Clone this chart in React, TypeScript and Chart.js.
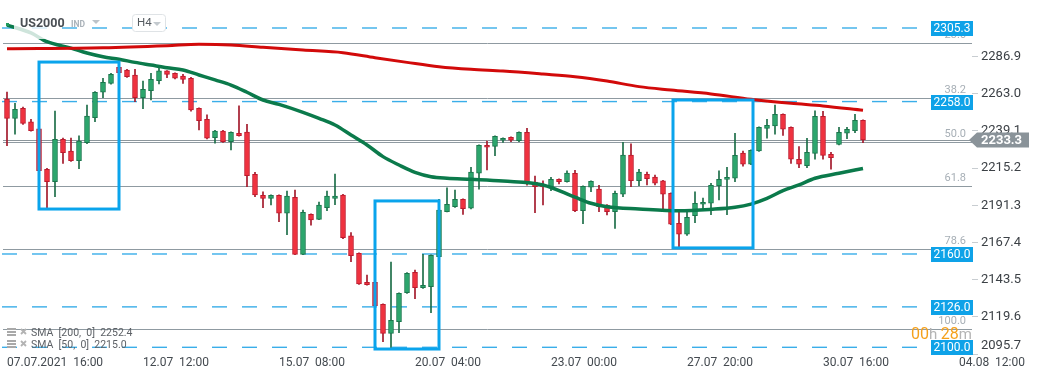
import React, { useEffect, useRef } from "react";
import { Chart, registerables } from "chart.js";

Chart.register(...registerables);

// ---- DATA (H4 candles, index 0 = 07.07.2021 16:00) ----
const opens = [
  2259.6, 2247.2, 2253.7, 2244.9, 2240.4, 2214.5, 2206.5, 2233.7, 2226.2, 2220.0,
  2231.5, 2247.6, 2264.0, 2269.7, 2280.0, 2278.3, 2275.1, 2260.5, 2265.0, 2271.4,
  2277.7, 2276.2, 2274.4, 2273.0, 2253.7, 2246.6, 2234.8, 2239.1, 2232.2, 2237.6,
  2238.4, 2211.2, 2197.7, 2195.8, 2197.7, 2186.2, 2196.4, 2159.8, 2185.5, 2182.3,
  2189.8, 2195.8, 2197.9, 2171.6, 2160.4, 2141.8, 2141.8, 2127.7, 2109.0, 2116.5,
  2135.1, 2148.2, 2138.3, 2139.0, 2158.3, 2187.2, 2190.4, 2195.2, 2189.4, 2211.9,
  2229.9, 2229.2, 2233.1, 2235.0, 2232.8, 2238.2, 2206.3, 2204.2, 2203.3, 2208.0,
  2206.5, 2211.9, 2187.8, 2202.9, 2201.8, 2191.5, 2187.2, 2198.4, 2223.6, 2207.1,
  2211.2, 2209.5, 2207.0, 2199.0, 2179.7, 2172.7, 2184.6, 2192.0, 2192.6, 2203.9,
  2208.0, 2208.7, 2224.9, 2217.7, 2226.2, 2240.8, 2242.3, 2249.8, 2241.4, 2220.9,
  2216.8, 2224.7, 2248.5, 2224.1, 2230.5, 2237.6, 2239.3, 2246.0,
];
const highs = [
  2264.1, 2256.9, 2254.5, 2246.6, 2241.0, 2215.0, 2251.9, 2234.6, 2234.6, 2235.9,
  2255.8, 2264.5, 2273.0, 2276.2, 2282.8, 2278.8, 2278.7, 2271.2, 2276.2, 2280.0,
  2278.0, 2276.5, 2275.5, 2273.6, 2254.0, 2249.4, 2239.5, 2239.5, 2238.6, 2255.2,
  2243.4, 2212.5, 2199.9, 2198.0, 2198.0, 2200.5, 2201.1, 2188.3, 2185.8, 2193.4,
  2200.5, 2211.4, 2198.3, 2173.7, 2160.8, 2146.5, 2142.2, 2128.0, 2154.8, 2135.0,
  2148.0, 2149.7, 2159.8, 2159.5, 2195.2, 2202.6, 2201.1, 2195.5, 2215.7, 2230.2,
  2232.6, 2236.0, 2234.7, 2235.3, 2238.5, 2240.8, 2210.1, 2207.0, 2209.3, 2208.3,
  2213.4, 2213.8, 2203.8, 2207.0, 2204.2, 2191.8, 2200.5, 2231.8, 2230.9, 2214.5,
  2212.7, 2210.8, 2207.3, 2199.3, 2187.0, 2187.8, 2199.9, 2196.0, 2205.5, 2213.4,
  2215.7, 2237.6, 2226.2, 2227.0, 2241.7, 2246.6, 2255.8, 2250.1, 2241.7, 2229.0,
  2234.4, 2252.1, 2251.7, 2225.4, 2241.4, 2241.4, 2249.8, 2246.3,
];
const lows = [
  2229.6, 2237.0, 2243.3, 2238.9, 2213.0, 2189.8, 2196.8, 2218.3, 2219.5, 2214.8,
  2231.0, 2245.0, 2260.5, 2269.2, 2276.0, 2273.5, 2257.9, 2253.4, 2259.0, 2269.3,
  2273.4, 2272.5, 2269.7, 2251.9, 2239.7, 2234.0, 2231.2, 2231.8, 2226.9, 2235.7,
  2203.3, 2196.8, 2189.8, 2191.5, 2180.7, 2172.4, 2159.5, 2159.5, 2178.6, 2182.0,
  2187.8, 2191.7, 2169.8, 2155.0, 2140.5, 2140.0, 2126.5, 2103.6, 2099.4, 2109.4,
  2134.7, 2131.3, 2137.9, 2122.2, 2158.0, 2187.0, 2190.0, 2185.5, 2189.0, 2201.6,
  2214.0, 2223.2, 2231.8, 2232.2, 2232.2, 2204.2, 2186.5, 2191.5, 2200.7, 2205.0,
  2206.2, 2187.2, 2179.5, 2200.0, 2187.2, 2185.1, 2176.5, 2196.8, 2203.3, 2203.9,
  2204.4, 2204.4, 2188.7, 2178.8, 2164.7, 2172.0, 2180.1, 2188.9, 2185.3, 2194.7,
  2185.3, 2206.5, 2216.4, 2217.4, 2225.9, 2234.4, 2237.0, 2236.3, 2218.3, 2215.5,
  2215.5, 2220.9, 2220.9, 2214.5, 2230.2, 2234.1, 2238.0, 2231.5,
];
const closes = [
  2247.2, 2253.0, 2244.0, 2239.3, 2213.5, 2206.5, 2233.7, 2225.1, 2220.0, 2232.6,
  2248.7, 2264.0, 2270.4, 2275.5, 2276.6, 2274.0, 2260.5, 2265.9, 2272.3, 2277.7,
  2275.5, 2273.0, 2272.3, 2252.6, 2245.7, 2234.4, 2239.1, 2232.2, 2238.2, 2236.1,
  2210.3, 2197.9, 2195.8, 2197.7, 2186.2, 2197.3, 2159.8, 2186.8, 2181.9, 2191.5,
  2197.3, 2197.3, 2170.5, 2158.9, 2140.7, 2140.3, 2126.8, 2109.0, 2117.4, 2134.7,
  2147.6, 2138.3, 2139.9, 2159.2, 2188.3, 2192.0, 2195.2, 2189.1, 2212.7, 2229.9,
  2228.6, 2235.7, 2234.4, 2233.1, 2238.2, 2205.5, 2203.3, 2203.1, 2208.0, 2206.5,
  2212.1, 2187.8, 2203.5, 2206.7, 2190.4, 2187.2, 2199.0, 2223.6, 2207.1, 2212.7,
  2208.4, 2205.6, 2198.4, 2179.1, 2172.7, 2183.6, 2192.6, 2193.2, 2204.2, 2208.0,
  2209.3, 2223.4, 2217.7, 2226.7, 2241.4, 2242.7, 2249.8, 2240.2, 2220.9, 2217.7,
  2225.4, 2248.5, 2223.4, 2221.9, 2238.2, 2240.2, 2246.0, 2233.3,
];

const timeTickIdx = [0, 17, 34, 51, 68, 85, 102, 119];
const timeTickLabels = [
  "07.07.2021  16:00", "12.07  12:00", "15.07  08:00", "20.07  04:00",
  "23.07  00:00", "27.07  20:00", "30.07  16:00", "04.08  12:00",
];
const priceTicks = [2095.7, 2119.6, 2143.5, 2167.4, 2191.3, 2215.2, 2239.1, 2263.0, 2286.9];

const sma200Idx = [0, 12, 20, 24, 28, 32, 37, 42, 46, 50, 54, 58, 62, 67, 71, 75, 79, 83, 88, 93, 98, 102, 107];
const sma200Val = [2292.0, 2292.6, 2293.9, 2294.8, 2294.4, 2292.9, 2291.1, 2289.4, 2286.2, 2283.2, 2280.4, 2278.7,
  2277.6, 2275.7, 2274.0, 2271.2, 2267.6, 2265.4, 2262.9, 2259.5, 2256.9, 2255.2, 2252.4];
const sma50Idx = [0, 3, 5, 8, 10, 12, 14, 16, 18, 20, 22, 24, 26, 28, 30, 32, 34, 37, 39, 41, 43, 45, 47, 49, 51,
  53, 55, 58, 62, 67, 71, 73, 75, 79, 84, 88, 91, 93, 95, 97, 99, 101, 104, 107];
const sma50Val = [2307.2, 2302.1, 2296.5, 2292.4, 2289.2, 2286.8, 2285.2, 2283.2, 2281.5, 2279.8, 2278.3, 2275.1,
  2271.9, 2268.6, 2264.0, 2259.0, 2256.2, 2251.1, 2247.2, 2242.9, 2236.5, 2230.1, 2222.6, 2217.2, 2212.5,
  2209.7, 2208.7, 2208.0, 2206.9, 2204.4, 2196.5, 2192.6, 2190.4, 2189.0, 2187.8, 2188.7, 2190.0, 2192.1,
  2195.8, 2200.7, 2204.4, 2208.7, 2211.9, 2215.0];

const levelPrices = [2305.3, 2258.0, 2160.0, 2126.0, 2100.0];
const fibLabels = ["23.6", "38.2", "50.0", "61.8", "78.6", "100.0"];
const fibPrices = [2295.5, 2260.4, 2232.0, 2203.6, 2163.3, 2111.8];

const boxStartIdx = [4, 46, 83.25];
const boxEndIdx = [14, 54, 93.25];
const boxHigh = [2283.4, 2194.1, 2259.0];
const boxLow = [2188.9, 2098.9, 2163.9];

const lastPrice = 2233.3;
const legendLabels = ["SMA  [200,  0]  2252.4", "SMA  [50,  0]  2215.0"];

const RED_FILL = "#f0323f";
const RED_BORDER = "#bd1a2d";
const RED_WICK = "#a3182a";
const GREEN_FILL = "#2ca66d";
const GREEN_BORDER = "#1a764c";
const GREEN_WICK = "#1b6d47";
const FONT = "Roboto, 'Noto Sans', sans-serif";

const overlayPlugin = {
  id: "overlay",
  beforeDatasetsDraw(chart: any) {
    const { ctx, chartArea, scales } = chart;
    const ys = scales.y;
    ctx.save();
    // fib lines
    ctx.strokeStyle = "#8f9aa1";
    ctx.lineWidth = 1;
    fibPrices.forEach((p) => {
      const y = Math.round(ys.getPixelForValue(p)) + 0.5;
      ctx.beginPath();
      ctx.moveTo(chartArea.left + 3, y);
      ctx.lineTo(chartArea.right, y);
      ctx.stroke();
    });
    // current price line
    const py = Math.round(ys.getPixelForValue(lastPrice)) + 0.5;
    ctx.strokeStyle = "#8c969c";
    ctx.beginPath();
    ctx.moveTo(chartArea.left + 3, py);
    ctx.lineTo(chartArea.right, py);
    ctx.stroke();
    // dashed levels
    ctx.strokeStyle = "#3aaee9";
    ctx.lineWidth = 1.4;
    ctx.setLineDash([15, 15]);
    levelPrices.forEach((p) => {
      const y = ys.getPixelForValue(p);
      ctx.beginPath();
      ctx.moveTo(chartArea.left + 2, y);
      ctx.lineTo(chartArea.right - 41, y);
      ctx.stroke();
    });
    ctx.setLineDash([]);
    // fib labels
    ctx.fillStyle = "#a7afb6";
    ctx.font = `11px ${FONT}`;
    ctx.textAlign = "right";
    ctx.textBaseline = "middle";
    fibPrices.forEach((p, i) => {
      const y = ys.getPixelForValue(p);
      ctx.fillText(fibLabels[i], chartArea.right - 6, y - 8);
    });
    ctx.restore();
  },
  afterDatasetsDraw(chart: any) {
    const { ctx, chartArea, scales } = chart;
    const xs = scales.x;
    const ys = scales.y;
    ctx.save();
    // highlight rectangles
    ctx.strokeStyle = "#0aa4ec";
    ctx.lineWidth = 3;
    boxStartIdx.forEach((s, i) => {
      const x1 = xs.getPixelForValue(s);
      const x2 = xs.getPixelForValue(boxEndIdx[i]);
      const y1 = ys.getPixelForValue(boxHigh[i]);
      const y2 = ys.getPixelForValue(boxLow[i]);
      ctx.strokeRect(x1, y1, x2 - x1, y2 - y1);
    });
    // level labels
    ctx.font = `12px ${FONT}`;
    ctx.textAlign = "center";
    ctx.textBaseline = "middle";
    levelPrices.forEach((p) => {
      const y = ys.getPixelForValue(p);
      ctx.fillStyle = "#0ea2e8";
      ctx.fillRect(chartArea.right - 41, Math.round(y - 7), 42, 15);
      ctx.fillStyle = "#ffffff";
      ctx.fillText(p.toFixed(1), chartArea.right - 20, y + 1);
    });
    // header
    ctx.fillStyle = "rgba(255,255,255,0.8)";
    ctx.fillRect(14, 13, 48, 26);
    ctx.fillStyle = "#1f9a5c";
    ctx.fillRect(6, 23, 3, 3);
    ctx.font = `bold 12.5px ${FONT}`;
    ctx.textAlign = "left";
    ctx.fillStyle = "#4a4f54";
    ctx.fillText("US2000", 20, 24);
    ctx.font = `bold 8.5px ${FONT}`;
    ctx.fillStyle = "#aab2b9";
    ctx.fillText("IND", 71, 25);
    ctx.fillStyle = "#bcc3c9";
    ctx.beginPath();
    ctx.moveTo(92, 20); ctx.lineTo(100, 20); ctx.lineTo(96, 24); ctx.closePath(); ctx.fill();
    // H4 box
    ctx.fillStyle = "#ffffff";
    ctx.strokeStyle = "#dfe3e6";
    ctx.lineWidth = 1;
    ctx.beginPath();
    (ctx as any).roundRect ? (ctx as any).roundRect(132.5, 14.5, 33, 17, 3) : ctx.rect(132.5, 14.5, 33, 17);
    ctx.fill();
    ctx.stroke();
    ctx.fillStyle = "#555b60";
    ctx.font = `11.5px ${FONT}`;
    ctx.fillText("H4", 137, 23.5);
    ctx.fillStyle = "#c3c9ce";
    ctx.beginPath();
    ctx.moveTo(153, 22); ctx.lineTo(161, 22); ctx.lineTo(157, 26); ctx.closePath(); ctx.fill();
    // legend
    legendLabels.forEach((t, i) => {
      const y = 332 + i * 12;
      ctx.fillStyle = "#a9a9a9";
      ctx.fillRect(7, y - 4, 9, 2);
      ctx.fillRect(7, y - 1, 9, 2);
      ctx.fillRect(7, y + 2, 9, 2);
      ctx.strokeStyle = "#b3b3b3";
      ctx.lineWidth = 1.8;
      ctx.beginPath();
      ctx.moveTo(21, y - 3); ctx.lineTo(26, y + 2);
      ctx.moveTo(26, y - 3); ctx.lineTo(21, y + 2);
      ctx.stroke();
      ctx.fillStyle = "#5d6166";
      ctx.font = `10.5px ${FONT}`;
      ctx.textAlign = "left";
      ctx.fillText(t, 31, y + 1);
    });
    // countdown
    const parts = [
      { t: "00", c: "#f5a11c", f: `16px ${FONT}` },
      { t: "h ", c: "#b4b4b4", f: `15px ${FONT}` },
      { t: "28", c: "#f5a11c", f: `16px ${FONT}` },
      { t: "m", c: "#b4b4b4", f: `15px ${FONT}` },
    ];
    let total = 0;
    parts.forEach((p) => { ctx.font = p.f; total += ctx.measureText(p.t).width; });
    let cx = chartArea.right - total;
    parts.forEach((p) => {
      ctx.font = p.f;
      ctx.fillStyle = p.c;
      ctx.textAlign = "left";
      ctx.fillText(p.t, cx, 335);
      cx += ctx.measureText(p.t).width;
    });
    ctx.restore();
  },
  afterDraw(chart: any) {
    const { ctx, chartArea, scales } = chart;
    const y = scales.y.getPixelForValue(lastPrice);
    ctx.save();
    ctx.fillStyle = "#8a9399";
    ctx.beginPath();
    ctx.moveTo(chartArea.right - 3, y);
    ctx.lineTo(chartArea.right + 5, y - 7.5);
    ctx.lineTo(chartArea.right + 57, y - 7.5);
    ctx.lineTo(chartArea.right + 57, y + 7.5);
    ctx.lineTo(chartArea.right + 5, y + 7.5);
    ctx.closePath();
    ctx.fill();
    ctx.fillStyle = "#ffffff";
    ctx.font = `bold 13px ${FONT}`;
    ctx.textAlign = "left";
    ctx.textBaseline = "middle";
    ctx.fillText(lastPrice.toFixed(1), chartArea.right + 9, y + 1);
    ctx.restore();
  },
};

export default function App() {
  const canvasRef = useRef<HTMLCanvasElement | null>(null);

  useEffect(() => {
    const canvas = canvasRef.current;
    if (!canvas) return;
    const idx = opens.map((_, i) => i);
    const up = idx.map((i) => closes[i] >= opens[i]);

    const chart = new Chart(canvas, {
      type: "bar",
      data: {
        datasets: [
          {
            type: "line",
            data: sma200Idx.map((x, k) => ({ x, y: sma200Val[k] })),
            borderColor: "#d20a0a",
            borderWidth: 3,
            pointRadius: 0,
            cubicInterpolationMode: "monotone",
            order: 0,
          } as any,
          {
            type: "line",
            data: sma50Idx.map((x, k) => ({ x, y: sma50Val[k] })),
            borderColor: "#0b7a4b",
            borderWidth: 3.5,
            pointRadius: 0,
            cubicInterpolationMode: "monotone",
            order: 0,
          } as any,
          {
            type: "bar",
            data: idx.map((i) => ({ x: i, y: [Math.min(opens[i], closes[i]), Math.max(opens[i], closes[i])] })),
            backgroundColor: up.map((u) => (u ? GREEN_FILL : RED_FILL)),
            borderColor: up.map((u) => (u ? GREEN_BORDER : RED_BORDER)),
            borderWidth: 1,
            borderSkipped: false,
            barThickness: 5,
            minBarLength: 2,
            grouped: false,
            order: 2,
          } as any,
          {
            type: "bar",
            data: idx.map((i) => ({ x: i, y: [lows[i], highs[i]] })),
            backgroundColor: up.map((u) => (u ? GREEN_WICK : RED_WICK)),
            borderWidth: 0,
            barThickness: 1,
            grouped: false,
            order: 3,
          } as any,
        ],
      },
      options: {
        responsive: false,
        animation: false,
        events: [],
        layout: { padding: 0, autoPadding: false } as any,
        plugins: { legend: { display: false }, tooltip: { enabled: false } },
        scales: {
          x: {
            type: "linear",
            min: -0.875,
            max: 120.625,
            offset: false,
            afterFit: (s: any) => {
              s.height = 25;
              s.paddingLeft = 0; s.paddingRight = 0; s.paddingTop = 0; s.paddingBottom = 0;
            },
            afterBuildTicks: (s: any) => { s.ticks = timeTickIdx.map((v) => ({ value: v })); },
            grid: { display: false, drawOnChartArea: false, drawTicks: false },
            border: { display: false },
            ticks: {
              align: "start",
              maxRotation: 0,
              autoSkip: false,
              padding: 2,
              color: "#444a50",
              font: { family: FONT, size: 12 },
              callback: (_v: any, i: number) => timeTickLabels[i],
            },
          } as any,
          y: {
            type: "linear",
            position: "right",
            min: 2095.7,
            max: 2323.3,
            afterFit: (s: any) => {
              s.width = 69;
              s.paddingLeft = 0; s.paddingRight = 0; s.paddingTop = 0; s.paddingBottom = 0;
            },
            afterBuildTicks: (s: any) => { s.ticks = priceTicks.map((v) => ({ value: v })); },
            grid: { drawOnChartArea: false, drawTicks: true, tickLength: 6, color: "#c8cdd1" },
            border: { display: false },
            ticks: {
              padding: 3,
              color: "#3c4146",
              font: { family: FONT, size: 13 },
              callback: (v: any) => {
                const s = Number(v).toFixed(1);
                return Number(v) === priceTicks[0] ? [s, ""] : s;
              },
            },
          } as any,
        },
      },
      plugins: [overlayPlugin],
    });
    return () => chart.destroy();
  }, []);

  return (
    <div style={{ position: "fixed", left: 0, top: 0, width: 1041, height: 379, background: "#fff" }}>
      <canvas ref={canvasRef} width={1041} height={379} style={{ display: "block" }} />
    </div>
  );
}
